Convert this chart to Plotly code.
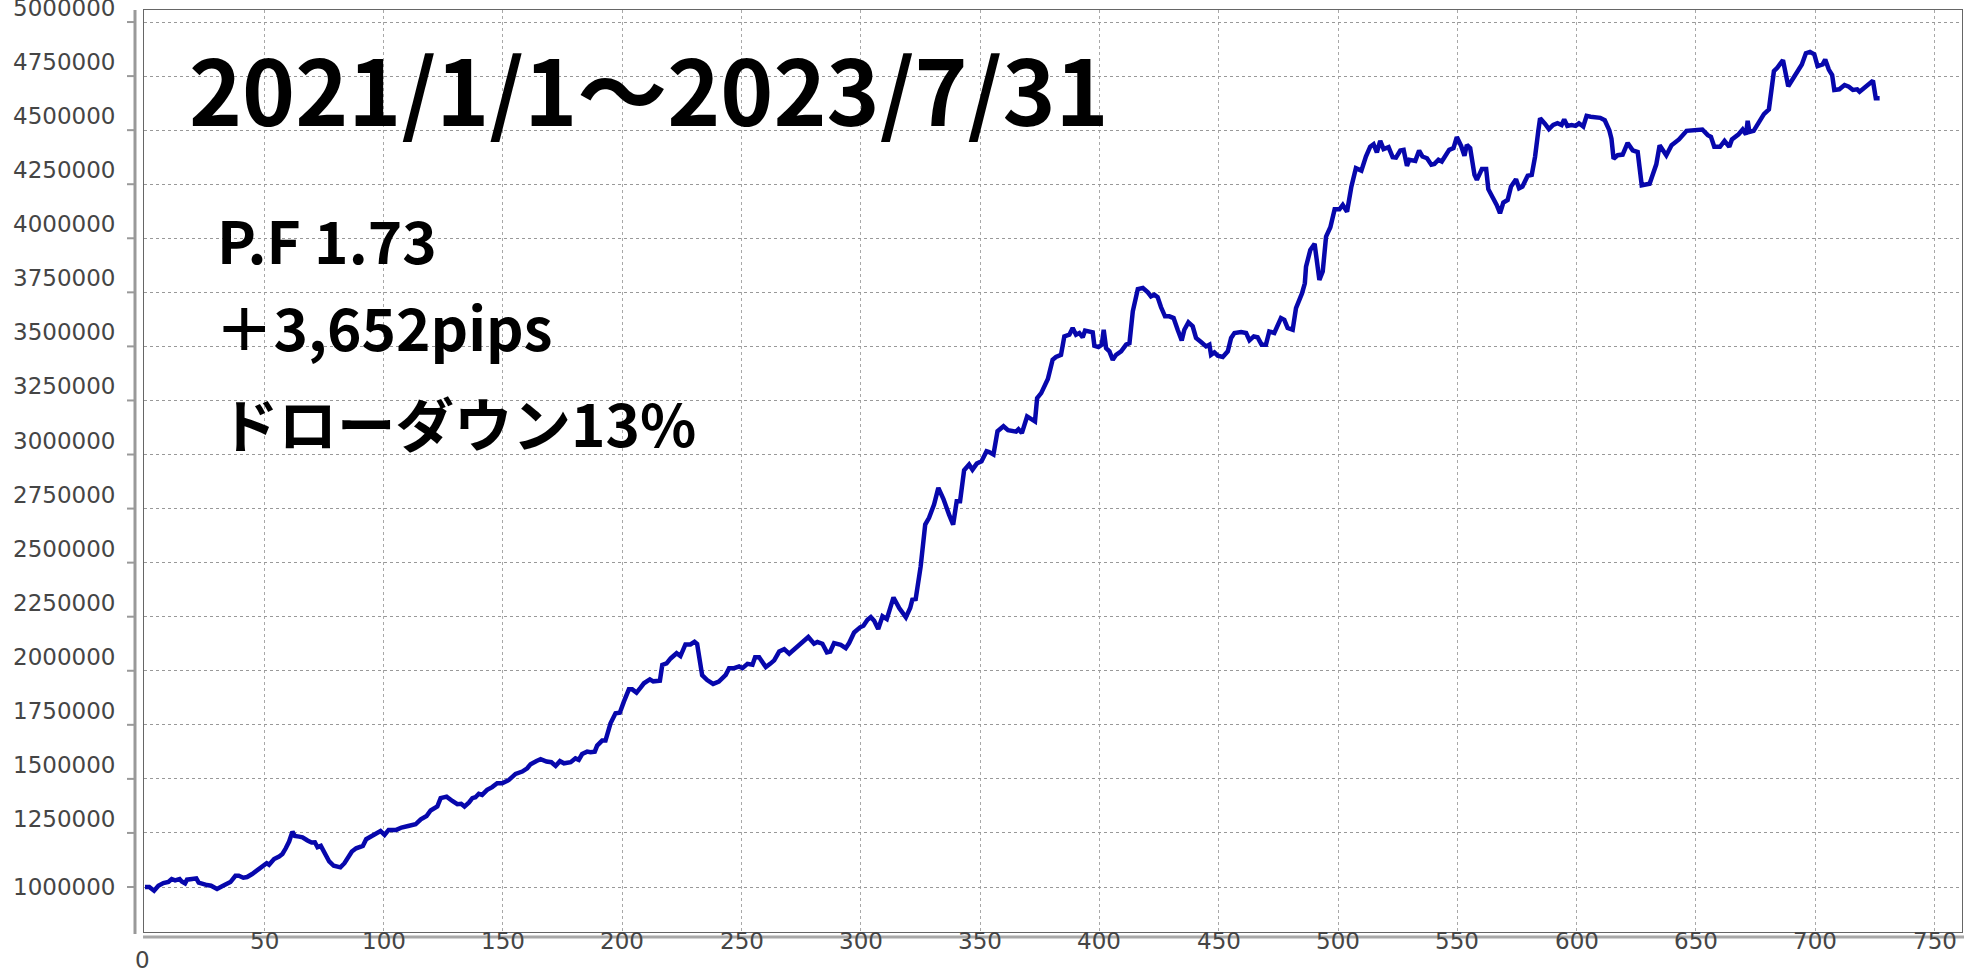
import plotly.graph_objects as go

# ---------------- data ----------------
# trade index (x) and account balance in thousands (y), segment by segment
seg1_x = [0, 1.8, 3.8, 5.6, 7.7, 9.8, 11.2, 12.6, 14.5, 15.4, 16.8, 17.6, 19.7, 21.5, 22.5, 23.9, 26.0, 27.7, 30.2, 32.3,
          34.7, 35.8, 37.9, 39.3, 41.2, 42.8, 44.9, 47.1, 49.2, 51.0, 52.0, 54.1, 56.2, 57.6, 59.0, 60.4, 61.8, 62.8, 64.6,
          66.0, 68.1, 69.8, 71.2, 72.3, 73.7, 75.1, 77.2, 79.1, 81.9, 83.6, 85.7, 86.7, 88.5, 91.3, 92.7, 94.8, 96.9, 98.7,
          100.4, 102.1, 105.3, 107.5, 110.3, 113.4, 115.6, 118.0]
seg1_y = [1000, 1000, 983, 1006, 1018, 1023, 1037, 1031, 1037, 1026, 1017, 1034, 1037, 1040, 1020, 1014, 1009, 1006, 991, 1003,
          1014, 1023, 1052, 1052, 1043, 1046, 1060, 1080, 1095, 1110, 1103, 1129, 1141, 1153, 1179, 1210, 1256, 1236, 1233,
          1230, 1215, 1206, 1207, 1184, 1190, 1164, 1118, 1098, 1091, 1110, 1141, 1164, 1179, 1190, 1221, 1236, 1248, 1259,
          1241, 1264, 1264, 1275, 1282, 1290, 1313, 1328]

seg2_x = [119.7, 122.5, 123.9, 126.4, 128.8, 130.9, 132.5, 133.9, 135.8, 137.2, 138.5, 139.9, 141.3, 143.4, 145.5, 147.6,
          149.7, 152.5, 155.3, 158.1, 160.2, 161.6, 164.1, 165.8, 168.3, 170.3, 172.1, 173.9, 175.6, 178.4, 180.4, 181.8,
          183.2, 185.3, 186.7, 188.5, 189.5, 191.6, 193.0, 195.1, 197.2, 199.0, 200.7, 202.8, 204.2, 206.0, 207.7, 209.1,
          211.6, 213.0, 215.8, 216.8, 218.6, 220.3, 222.8, 224.4, 226.5, 228.6, 230.3, 231.4, 233.5, 235.6, 238.1, 240.5]
seg2_y = [1354, 1372, 1411, 1418, 1398, 1383, 1385, 1372, 1391, 1411, 1415, 1431, 1426, 1449, 1462, 1480,
          1480, 1495, 1523, 1534, 1549, 1568, 1583, 1591, 1580, 1577, 1560, 1582, 1572, 1577, 1595, 1588,
          1615, 1626, 1623, 1626, 1654, 1677, 1677, 1757, 1803, 1806, 1857, 1914, 1914, 1899, 1922, 1942,
          1960, 1951, 1954, 2027, 2034, 2057, 2081, 2068, 2122, 2122, 2134, 2124, 1980, 1957, 1939, 1950]

seg3_x = [243.4, 244.8, 246.9, 249.0, 250.4, 252.5, 254.6, 255.7, 257.4, 258.8, 260.2, 262.0, 263.7, 265.8, 267.9, 270.0,
          272.8, 275.6, 278.0, 280.4, 281.8, 283.9, 285.8, 287.2, 288.8, 291.6, 293.7, 295.1, 297.2, 299.7, 301.1, 302.8,
          304.2, 305.6, 307.3, 309.1, 310.9, 313.7, 316.1, 318.9, 320.7, 321.6, 323.0, 325.1, 327.0, 328.6, 330.7, 332.5,
          334.6, 337.0, 338.7, 340.2, 341.6, 343.3, 345.4, 346.8, 348.6, 350.6, 352.7, 353.8, 355.6, 357.3, 359.8, 361.7]
seg3_y = [1981, 2012, 2012, 2020, 2012, 2032, 2028, 2062, 2062, 2043, 2017, 2032, 2048, 2089, 2100, 2079,
          2105, 2136, 2156, 2125, 2133, 2125, 2085, 2089, 2128, 2120, 2105, 2128, 2177, 2201, 2208, 2236,
          2248, 2231, 2193, 2252, 2239, 2339, 2290, 2247, 2290, 2329, 2332, 2483, 2676, 2707, 2769, 2846,
          2795, 2722, 2676, 2784, 2784, 2927, 2954, 2930, 2958, 2969, 3015, 3011, 3000, 3108, 3131, 3113]

seg4_x = [363.0, 365.1, 366.1, 367.5, 369.7, 371.4, 373.0, 373.9, 375.6, 378.4, 380.4, 381.8, 383.9, 385.3, 387.4, 388.8,
          390.2, 391.6, 393.0, 394.0, 395.8, 397.2, 397.9, 399.6, 401.0, 401.8, 402.8, 404.2, 405.6, 407.0, 409.1, 411.2,
          412.6, 414.0, 416.1, 418.2, 420.3, 421.6, 423.0, 424.4, 425.8, 427.5, 429.3, 431.1, 432.8, 434.5, 435.6, 437.3,
          439.1, 440.5, 442.6, 444.7, 446.1, 446.8, 448.2, 449.6, 451.7, 453.8, 455.2, 456.6, 459.4, 461.5, 462.9, 464.7,
          466.3, 468.0, 469.8, 471.2, 473.3, 474.7, 476.1, 477.5, 478.9, 481.0, 482.4]
seg4_y = [3111, 3106, 3117, 3099, 3176, 3164, 3153, 3261, 3284, 3349, 3438, 3451, 3461, 3546, 3554, 3585,
          3554, 3562, 3542, 3573, 3569, 3565, 3503, 3497, 3508, 3577, 3492, 3477, 3438, 3461, 3477, 3508,
          3515, 3662, 3765, 3770, 3750, 3731, 3739, 3728, 3682, 3639, 3639, 3631, 3577, 3528, 3577, 3611,
          3593, 3539, 3520, 3500, 3508, 3461, 3472, 3457, 3451, 3477, 3539, 3562, 3566, 3562, 3528, 3546,
          3542, 3508, 3508, 3569, 3562, 3593, 3631, 3623, 3585, 3577, 3677]

seg5_x = [484.9, 486.1, 486.6, 488.4, 490.2, 491.2, 492.2, 493.6, 495.0, 496.8, 498.6, 500.6, 502.0, 503.8, 505.6, 507.5,
          509.8, 511.7, 513.5, 514.9, 516.3, 517.7, 519.1, 521.2, 522.9, 524.3, 526.1, 527.5, 528.9, 529.9, 532.4, 534.0,
          535.4, 537.3, 539.1, 540.4, 542.1, 543.5, 545.2, 546.6, 548.4, 549.8, 551.6, 553.0, 554.0, 555.4, 557.2, 558.2,
          560.3, 562.1, 563.0, 564.7, 566.5, 567.9, 569.3, 571.1, 572.5, 574.6, 575.9, 577.3, 579.5, 581.2, 582.6, 584.0,
          584.7, 586.8, 588.4, 590.2, 592.0, 593.7, 594.8, 596.1, 597.9, 599.6, 601.0, 602.8, 604.2]
seg5_y = [3745, 3792, 3869, 3946, 3974, 3900, 3807, 3846, 4008, 4051, 4134, 4134, 4154, 4123, 4239, 4324,
          4313, 4378, 4424, 4435, 4397, 4451, 4412, 4421, 4375, 4373, 4406, 4409, 4335, 4363, 4358, 4406,
          4378, 4370, 4340, 4344, 4363, 4355, 4383, 4409, 4417, 4468, 4427, 4381, 4432, 4417, 4293, 4270,
          4320, 4320, 4227, 4196, 4154, 4116, 4165, 4177, 4239, 4273, 4231, 4239, 4289, 4293, 4378, 4501,
          4555, 4529, 4505, 4524, 4532, 4524, 4550, 4520, 4524, 4520, 4532, 4517, 4566]

seg6_x = [605.9, 609.9, 611.8, 613.7, 614.6, 615.5, 617.2, 619.3, 621.4, 623.5, 625.6, 627.3, 630.6, 633.4, 634.8, 637.6,
          639.8, 642.9, 646.1, 649.6, 652.7, 655.0, 656.3, 657.7, 660.1, 662.0, 664.0, 665.1, 667.9, 669.6, 671.0, 671.7,
          672.4, 674.2, 676.3, 678.5, 680.6, 682.7, 684.1, 686.5, 688.7, 690.4, 692.5, 694.4, 696.1, 697.8, 699.6, 701.0,
          703.1, 704.2, 705.7, 707.1, 708.0, 710.1, 712.3, 714.1, 715.8, 717.6, 718.6, 720.7, 722.8, 724.2, 725.4, 727.0]
seg6_y = [4562, 4557, 4546, 4500, 4461, 4368, 4384, 4387, 4441, 4407, 4399, 4245, 4252, 4342, 4430, 4384,
          4430, 4457, 4497, 4500, 4503, 4477, 4469, 4423, 4423, 4450, 4423, 4457, 4481, 4503, 4480, 4543,
          4492, 4497, 4531, 4574, 4596, 4773, 4788, 4824, 4703, 4734, 4768, 4804, 4856, 4862, 4851, 4796,
          4804, 4827, 4780, 4755, 4686, 4689, 4709, 4701, 4686, 4689, 4678, 4697, 4720, 4729, 4647, 4647]

y_ticks = [1000000, 1250000, 1500000, 1750000, 2000000, 2250000, 2500000, 2750000, 3000000,
           3250000, 3500000, 3750000, 4000000, 4250000, 4500000, 4750000, 5000000]
x_ticks = [0, 50, 100, 150, 200, 250, 300, 350, 400, 450, 500, 550, 600, 650, 700, 750]

title_text = "2021/1/1～2023/7/31"
stat_lines = ["P.F 1.73", "＋3,652pips", "ドローダウン13%"]

# ---------------- assemble ----------------
xs, ys = [], []
for sx, sy in [(seg1_x, seg1_y), (seg2_x, seg2_y), (seg3_x, seg3_y),
               (seg4_x, seg4_y), (seg5_x, seg5_y), (seg6_x, seg6_y)]:
    assert len(sx) == len(sy), (len(sx), len(sy))
    xs += sx
    ys += [v * 1000 for v in sy]

W, H = 1978, 975
L, R, T, B = 144, 1962, 10, 932
PW, PH = R - L, B - T


def px(xp):
    return (xp - L) / PW


def py(yp):
    return (B - yp) / PH


fig = go.Figure()
fig.add_trace(go.Scatter(x=xs, y=ys, mode="lines",
                         line=dict(color="#0707AC", width=4.5), hoverinfo="skip"))

AX_FONT = dict(family="DejaVu Sans, Verdana, sans-serif", size=23, color="#454545")
TXT_FONT = "Noto Sans CJK JP"

ann = []
for v in y_ticks:
    ann.append(dict(text=str(v), xref="paper", x=px(117), xanchor="right",
                    yref="y", y=v, yanchor="middle", yshift=0 if v == 1000000 else 14,
                    showarrow=False, font=AX_FONT))
for v in x_ticks:
    if v == 0:
        ann.append(dict(text=str(v), xref="x", x=v, xanchor="center", xshift=-3,
                        yref="paper", y=py(960), yanchor="middle", showarrow=False, font=AX_FONT))
    else:
        ann.append(dict(text=str(v), xref="x", x=v, xanchor="center",
                        yref="paper", y=py(941), yanchor="middle", showarrow=False, font=AX_FONT))

ann.append(dict(text=title_text, xref="paper", x=px(187), xanchor="left",
                yref="paper", y=py(87), yanchor="middle", showarrow=False,
                font=dict(family=TXT_FONT, size=90, color="#000000", weight=700)))
for txt, yc, xl in zip(stat_lines, [238, 325, 422], [215, 213, 218]):
    ann.append(dict(text=txt, xref="paper", x=px(xl), xanchor="left",
                    yref="paper", y=py(yc), yanchor="middle", showarrow=False,
                    font=dict(family=TXT_FONT, size=58.5, color="#000000", weight=700)))

shapes = []
# outer y axis line and x axis line
shapes.append(dict(type="line", xref="paper", yref="paper", x0=px(135), x1=px(135),
                   y0=py(934), y1=py(10), line=dict(color="#999999", width=3)))
shapes.append(dict(type="line", xref="paper", yref="paper", x0=px(143), x1=px(1964),
                   y0=py(937), y1=py(937), line=dict(color="#A8A8A8", width=3)))
for v in y_ticks:
    shapes.append(dict(type="line", xref="paper", yref="y", x0=px(127), x1=px(135),
                       y0=v, y1=v, line=dict(color="#999999", width=2)))

fig.update_layout(
    width=W, height=H,
    margin=dict(l=L, r=W - R, t=T, b=H - B, pad=0),
    paper_bgcolor="white", plot_bgcolor="white",
    showlegend=False,
    annotations=ann, shapes=shapes,
    xaxis=dict(range=[(L - 145) / 2.386, (R - 145) / 2.386], tickvals=x_ticks, showticklabels=False,
               showgrid=True, gridcolor="#A8A8A8", griddash="dot", gridwidth=1,
               zeroline=False, showline=True, mirror=True, linecolor="#666666", linewidth=1, ticks=""),
    yaxis=dict(range=[1000000 - (B - 887) * 4624.5, 1000000 + (887 - T) * 4624.5], tickvals=y_ticks,
               showticklabels=False, showgrid=True, gridcolor="#999999", griddash="dot", gridwidth=1,
               zeroline=False, showline=True, mirror=True, linecolor="#666666", linewidth=1, ticks=""),
)

fig.write_html("out.html", config={"displayModeBar": False},
               post_script="document.body.style.margin='0';document.body.style.padding='0';")
